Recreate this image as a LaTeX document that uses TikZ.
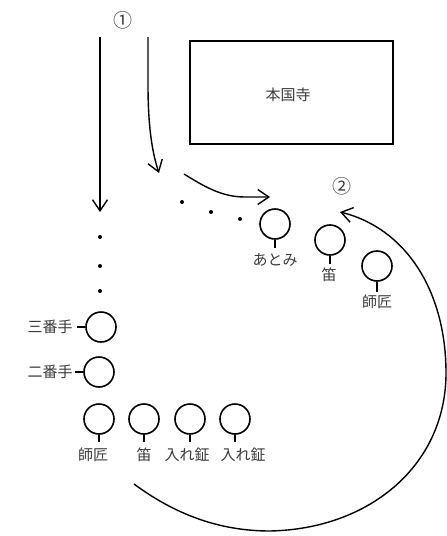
\documentclass[tikz,border=0pt]{standalone}
\usepackage{fontspec}
\newfontfamily\jp{Noto Sans CJK JP}
\usetikzlibrary{arrows.meta}
\definecolor{txt}{HTML}{3A3A3A}
\tikzset{
  person/.style={circle,draw=black,line width=1.6pt,minimum size=30pt,inner sep=0pt},
  lbl/.style={font=\jp\fontsize{15}{16}\selectfont,text=txt,inner sep=0pt},
  num/.style={font=\jp\fontsize{19}{20}\selectfont,text=txt,inner sep=0pt},
  stem/.style={line width=1.6pt},
  dotmark/.style={circle,fill=black,inner sep=0pt,minimum size=4pt},
  flow/.style={line width=1.4pt,-{Straight Barb[length=11pt,width=15pt,line width=1.4pt]}},
  temple/.style={draw=black,line width=2pt,inner sep=0pt}
}
\begin{document}
\begin{tikzpicture}[x=1pt,y=-1pt]
\useasboundingbox (0,0) rectangle (447,536);
% temple
\node[temple,minimum width=203pt,minimum height=103pt] (hon) at (291.5,92.5) {};
\node[lbl] (honl) at (288,95) {本国寺};
% numbers
\node[num] (n1) at (123,20) {①};
\node[num] (n2) at (342,186) {②};
% arrows from 1
\coordinate (a1s) at (100,37);
\coordinate (a1e) at (100,212);
\draw[flow] (a1s) -- (a1e);
\coordinate (a2s) at (148,37);
\coordinate (a2e) at (159,173);
\draw[flow] (a2s) -- (148,85) .. controls (148,130) and (153,155) .. (a2e);
\coordinate (a3s) at (184,174);
\coordinate (a3e) at (270,197);
\draw[flow] (a3s) .. controls (205,187) and (222,197) .. (245,197) -- (a3e);
% dots
\node[dotmark] (d1) at (182,202) {};
\node[dotmark] (d2) at (211,212) {};
\node[dotmark] (d3) at (240,219) {};
\node[dotmark] (v1) at (100,237) {};
\node[dotmark] (v2) at (100,266) {};
\node[dotmark] (v3) at (100,291) {};
% upper right group
\node[person] (p1) at (275,224) {};
\coordinate (p1b) at (275,248);
\draw[stem] (p1.south) -- (p1b);
\node[lbl] (l1) at (275,260) {あとみ};
\node[person] (p2) at (330,240) {};
\coordinate (p2b) at (330,264);
\draw[stem] (p2.south) -- (p2b);
\node[lbl] (l2) at (329,275) {笛};
\node[person] (p3) at (377,266) {};
\coordinate (p3b) at (377,292);
\draw[stem] (p3.south) -- (p3b);
\node[lbl] (l3) at (377,302) {師匠};
% left column
\node[person] (p4) at (101,327) {};
\coordinate (p4b) at (77,327);
\draw[stem] (p4.west) -- (p4b);
\node[lbl] (l4) at (50,327) {三番手};
\node[person] (p5) at (99,372) {};
\coordinate (p5b) at (75,372);
\draw[stem] (p5.west) -- (p5b);
\node[lbl] (l5) at (50,372) {二番手};
% bottom row
\node[person] (b1) at (99,419) {};
\coordinate (b1b) at (99,442);
\draw[stem] (b1.south) -- (b1b);
\node[lbl] (bl1) at (93,455) {師匠};
\node[person] (b2) at (144,419) {};
\coordinate (b2b) at (144,442);
\draw[stem] (b2.south) -- (b2b);
\node[lbl] (bl2) at (144,455) {笛};
\node[person] (b3) at (190,419) {};
\coordinate (b3b) at (190,442);
\draw[stem] (b3.south) -- (b3b);
\node[lbl] (bl3) at (187,455) {入れ鉦};
\node[person] (b4) at (235,419) {};
\coordinate (b4b) at (235,442);
\draw[stem] (b4.south) -- (b4b);
\node[lbl] (bl4) at (243,455) {入れ鉦};
% big return curve
\coordinate (cs) at (134,484);
\coordinate (ce) at (340,212);
\draw[flow] (cs) .. controls (180,518) and (225,531) .. (270,531)
  .. controls (370,529) and (446,465) .. (446,373)
  .. controls (446,290) and (405,228) .. (ce);
\end{tikzpicture}
\end{document}
